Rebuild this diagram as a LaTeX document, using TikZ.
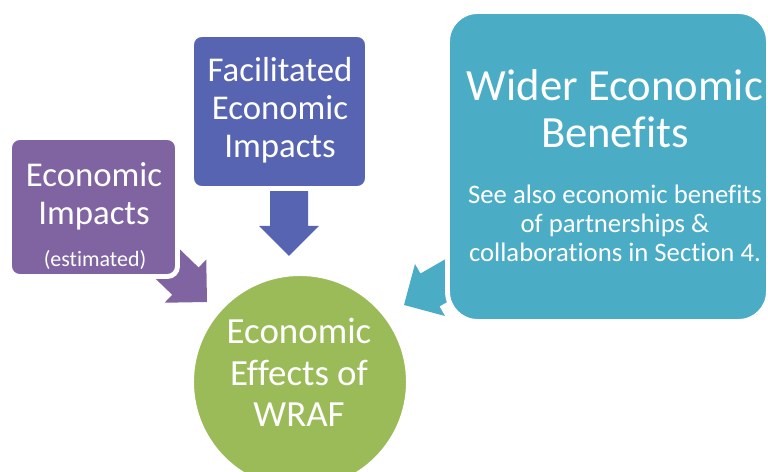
\documentclass[tikz,border=0pt]{standalone}
\usepackage{fontspec}
\setmainfont{Carlito}[Ligatures=NoCommon]
\usetikzlibrary{positioning}

\definecolor{wrafpurple}{HTML}{8064A2}
\definecolor{wrafblue}{HTML}{5664B2}
\definecolor{wrafteal}{HTML}{4BACC6}
\definecolor{wrafgreen}{HTML}{9BBB59}

\begin{document}
\begin{tikzpicture}[x=0.02cm, y=-0.02cm,
  box/.style={draw=white, line width=2.8pt, rounded corners=5.7pt, inner sep=0pt},
  txt/.style={text=white, align=center, anchor=base, inner sep=0pt},
  blockarrow/.pic={\fill[pic actions] (0,0) -- (-30,30) -- (-30,19) -- (-75,19)
    -- (-75,-19) -- (-30,-19) -- (-30,-30) -- cycle;}
]
\useasboundingbox (0,0) rectangle (768,472);

% Pfeile (unter den Kaesten)
\pic[fill=wrafpurple, rotate=-44] at (207,302) {blockarrow};
\pic[fill=wrafblue, rotate=-90] at (289,256) {blockarrow};
\pic[fill=wrafteal, rotate=-150] at (404,305) {blockarrow};

% Kaesten
\node[box, fill=wrafpurple, minimum width=3.36cm, minimum height=2.78cm] (impacts) at (93.5,207) {};
\node[box, fill=wrafblue, minimum width=3.52cm, minimum height=3.08cm] (facilitated) at (279.5,111.5) {};
\node[box, fill=wrafteal, rounded corners=17pt, minimum width=6.42cm, minimum height=6.2cm] (wider) at (608,166.5) {};

% Kreis
\node[circle, draw=white, line width=2.8pt, fill=wrafgreen, minimum size=4.34cm] (effects) at (300,382) {};

% Texte (Anker: Grundlinie der letzten Zeile)
\node[txt, font=\fontsize{19.8}{21.9}\selectfont] (impactstxt) at (94,225) {Economic\\Impacts};
\node[txt, font=\fontsize{12.5}{14}\selectfont] (estimated) at (95,267) {(estimated)};
\node[txt, font=\fontsize{19.8}{21.9}\selectfont] (facilitatedtxt) at (280,158) {Facilitated\\Economic\\Impacts};
\node[txt, font=\fontsize{25.4}{27.2}\selectfont] (widertxt) at (615,148) {Wider Economic\\Benefits};
\node[txt, font=\fontsize{15.2}{16.7}\selectfont] (seealso) at (615,262) {See also economic benefits\\of partnerships \&\\collaborations in Section 4.};
\node[txt, font=\fontsize{21}{23.8}\selectfont] (effectstxt) at (299,427) {Economic\\Effects of\\WRAF};

\end{tikzpicture}
\end{document}
